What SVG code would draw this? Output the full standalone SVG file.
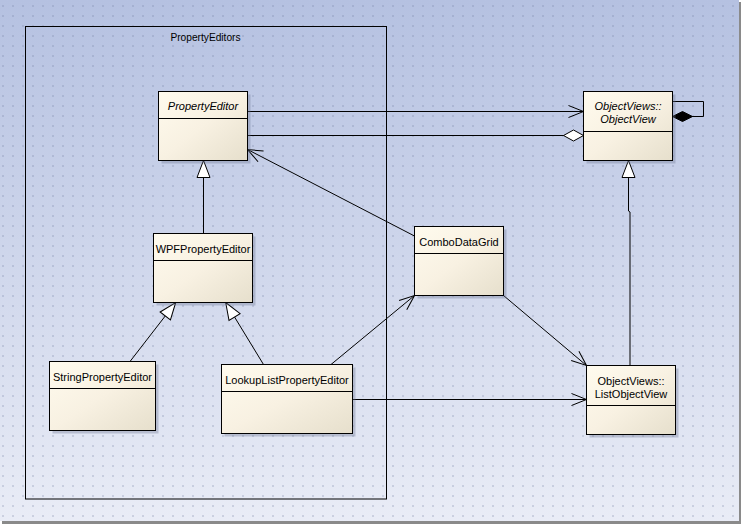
<svg xmlns="http://www.w3.org/2000/svg" width="743" height="526" viewBox="0 0 743 526">
<style>
.box{fill:url(#cream);stroke:#000;stroke-width:1}
.shadow{fill:#6b7290;fill-opacity:0.35}
.div{stroke:#000;stroke-width:1}
.t{font-family:"Liberation Sans",Arial,sans-serif;font-size:11px;fill:#000;text-anchor:middle}
.it{font-style:italic}
.c{fill:none;stroke:#000;stroke-width:1}
.assoc{marker-end:url(#open)}
.gen{marker-end:url(#tri)}
</style>
<defs>
<linearGradient id="bg" x1="0" y1="0" x2="0" y2="1">
<stop offset="0" stop-color="#b5c1e1"/>
<stop offset="1" stop-color="#e9ecf6"/>
</linearGradient>
<linearGradient id="cream" x1="0" y1="0" x2="1" y2="1">
<stop offset="0" stop-color="#fffbee"/>
<stop offset="0.5" stop-color="#f8f1e2"/>
<stop offset="1" stop-color="#e6dfcc"/>
</linearGradient>
<pattern id="dots" x="0" y="0" width="10" height="10" patternUnits="userSpaceOnUse">
<rect x="2.5" y="5.5" width="1" height="1" fill="#6f7ca0"/>
</pattern>
<marker id="open" markerUnits="userSpaceOnUse" markerWidth="17" markerHeight="14" viewBox="-1 -1 17 14" refX="15" refY="6" orient="auto">
<path d="M0,0 L15,6 L0,12" fill="none" stroke="#000" stroke-width="1"/>
</marker>
<marker id="tri" markerUnits="userSpaceOnUse" markerWidth="19" markerHeight="15" viewBox="-1 -1 19 15" refX="17" refY="6.5" orient="auto">
<path d="M0,0 L17,6.5 L0,13 Z" fill="#fff" stroke="#000" stroke-width="1"/>
</marker>
<marker id="hdia" markerUnits="userSpaceOnUse" markerWidth="22" markerHeight="13" viewBox="-1 -1 22 13" refX="20" refY="5.5" orient="auto">
<path d="M0,5.5 L10,0 L20,5.5 L10,11 Z" fill="#fff" stroke="#000" stroke-width="1"/>
</marker>
<marker id="fdia" markerUnits="userSpaceOnUse" markerWidth="22" markerHeight="13" viewBox="-1 -1 22 13" refX="20" refY="5" orient="auto">
<path d="M0,5 L10,0 L20,5 L10,10 Z" fill="#000" stroke="#000" stroke-width="1"/>
</marker>
</defs>
<rect x="0" y="0" width="743" height="526" fill="#fff"/>
<rect x="2" y="2" width="739" height="522" fill="#8a8a8a"/>
<rect x="0" y="0" width="739" height="521" fill="url(#bg)"/>
<rect x="0" y="0" width="739" height="521" fill="url(#dots)"/>

<g id="PropertyEditors">
<rect x="25.5" y="26.5" width="361" height="472.5" fill="none" stroke="#000" stroke-width="1"/>
<text class="t" x="205.5" y="40.5" style="font-size:10.2px">PropertyEditors</text>
</g>

<g id="connectors">
<path class="c assoc" d="M247.5,111.5 H583.5"/>
<path class="c" d="M247.5,135.5 H583.5" marker-end="url(#hdia)"/>
<path class="c" d="M672.5,101.5 H703.5 V116.5 H672.5" marker-end="url(#fdia)"/>
<path class="c gen" d="M630,365.5 V212 L628.5,211 V160.5"/>
<path class="c gen" d="M203.5,233.5 V160.5"/>
<path class="c gen" d="M130,361.5 L175.7,302.5"/>
<path class="c gen" d="M263.5,364.5 L225.7,302.5"/>
<path class="c assoc" d="M414.5,236 L247.5,149.5"/>
<path class="c assoc" d="M331,364.5 L414.5,295.5"/>
<path class="c assoc" d="M503.5,295.5 L586.5,365.5"/>
<path class="c assoc" d="M352.5,399.5 H586.5"/>
</g>

<g id="PropertyEditor">
<rect class="shadow" x="161.5" y="94.5" width="89" height="69"/>
<rect class="box" x="158.5" y="91.5" width="89" height="69"/>
<line class="div" x1="158.5" y1="118.5" x2="247.5" y2="118.5"/>
<text class="t it" x="203" y="109.5">PropertyEditor</text>
</g>

<g id="ObjectView">
<rect class="shadow" x="586.5" y="94.5" width="89" height="69"/>
<rect class="box" x="583.5" y="91.5" width="89" height="69"/>
<line class="div" x1="583.5" y1="131.5" x2="672.5" y2="131.5"/>
<text class="t it" x="628" y="109.5">ObjectViews::</text>
<text class="t it" x="628" y="122.5">ObjectView</text>
</g>

<g id="ComboDataGrid">
<rect class="shadow" x="417.5" y="229.5" width="89" height="69"/>
<rect class="box" x="414.5" y="226.5" width="89" height="69"/>
<line class="div" x1="414.5" y1="253.5" x2="503.5" y2="253.5"/>
<text class="t" x="459" y="245.5">ComboDataGrid</text>
</g>

<g id="WPFPropertyEditor">
<rect class="shadow" x="156.5" y="236.5" width="99" height="69"/>
<rect class="box" x="153.5" y="233.5" width="99" height="69"/>
<line class="div" x1="153.5" y1="260.5" x2="252.5" y2="260.5"/>
<text class="t" x="203" y="253">WPFPropertyEditor</text>
</g>

<g id="StringPropertyEditor">
<rect class="shadow" x="52.5" y="364.5" width="106" height="69"/>
<rect class="box" x="49.5" y="361.5" width="106" height="69"/>
<line class="div" x1="49.5" y1="388.5" x2="155.5" y2="388.5"/>
<text class="t" x="102.5" y="381">StringPropertyEditor</text>
</g>

<g id="LookupListPropertyEditor">
<rect class="shadow" x="224.5" y="367.5" width="131" height="69"/>
<rect class="box" x="221.5" y="364.5" width="131" height="69"/>
<line class="div" x1="221.5" y1="391.5" x2="352.5" y2="391.5"/>
<text class="t" x="287" y="384">LookupListPropertyEditor</text>
</g>

<g id="ListObjectView">
<rect class="shadow" x="589.5" y="368.5" width="89" height="69"/>
<rect class="box" x="586.5" y="365.5" width="89" height="69"/>
<line class="div" x1="586.5" y1="405.5" x2="675.5" y2="405.5"/>
<text class="t" x="631" y="384.5">ObjectViews::</text>
<text class="t" x="631" y="397.5">ListObjectView</text>
</g>
</svg>
